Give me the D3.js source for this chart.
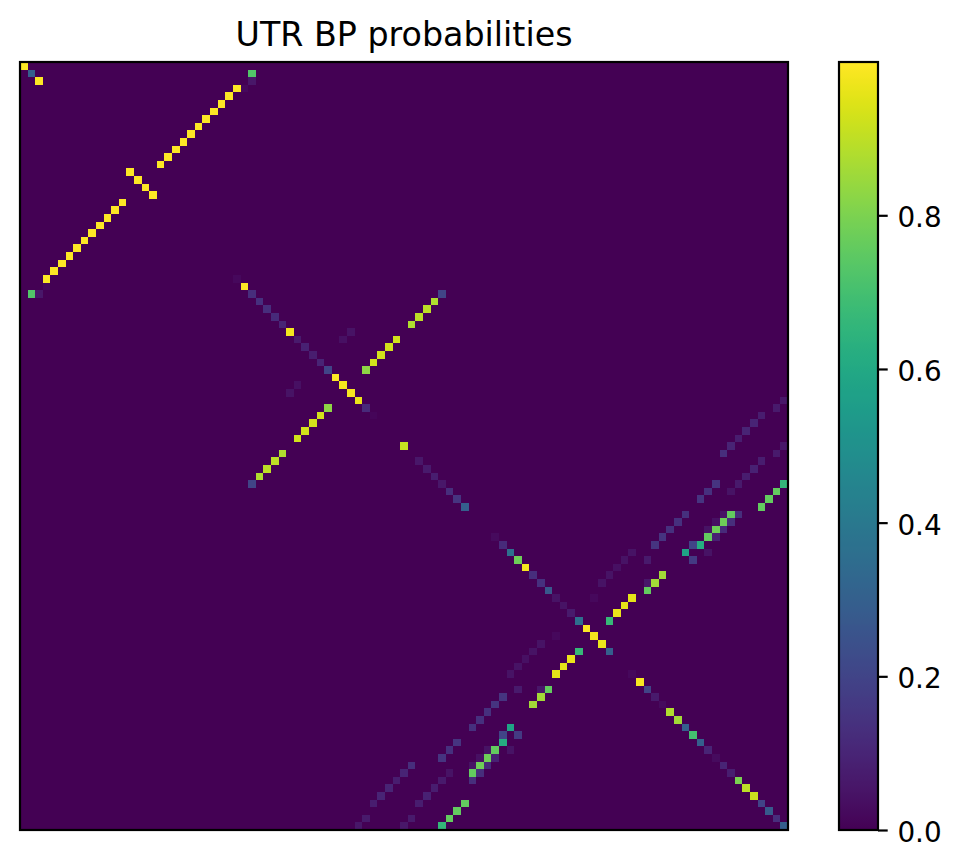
<!DOCTYPE html>
<html><head><meta charset="utf-8">
<script src="https://cdn.jsdelivr.net/npm/d3@7"></script>
<style>html,body{margin:0;padding:0;background:#fff}svg{display:block}text{font-family:"DejaVu Sans",sans-serif;fill:#000}</style>
</head><body><div id="chart"></div>
<script>
const N = 101;
const titleText = "UTR BP probabilities";
const colorbarTicks = [0, 0.2, 0.4, 0.6, 0.8];
const colorMax = 0.9995;

// diagonal cells
const diagIndex = [0,1,2,14,15,16,17,28,29,30,31,32,33,34,35,36,37,38,39,40,41,42,43,44,45,46,50,52,53,54,55,56,57,58,
  62,63,64,65,66,67,68,69,70,71,72,73,74,75,76,77,80,81,82,83,84,85,86,87,88,89,90,91,92,93,94,95,96,97,98,99,100];
const diagValue = [1,0.3,1,1,1,1,1,0.02,1,0.13,0.14,0.13,0.12,0.1,0.98,0.07,0.09,0.08,0.1,0.2,1,0.98,0.99,0.97,0.12,0.015,0.91,0.06,0.07,0.08,0.06,0.13,0.15,0.3,
  0.025,0.12,0.36,0.78,0.98,0.13,0.14,0.27,0.05,0.05,0.07,0.36,1,0.98,0.97,0.3,0.02,0.99,0.2,0.07,0.03,0.88,0.86,0.3,0.7,0.3,0.1,0.03,0.1,0.08,0.8,0.9,0.92,0.2,0.28,0.13,0.3];

// off-diagonal cells: upper triangle only, the matrix is symmetric
const helixAI = [1,2,3,3,4,5,6,7,8,9,10,11,12,13];
const helixAJ = [30,30,29,28,27,26,25,24,23,22,21,20,19,18];
const helixAP = [0.73,0.06,0.02,1,1,1,1,1,1,1,1,1,1,1];

const helixBI = [30,31,32,33,34,36,37,38,39,40,35,36];
const helixBJ = [55,54,53,52,51,49,48,47,46,45,43,42];
const helixBP = [0.2,0.88,0.9,0.9,0.88,0.93,0.93,0.93,0.93,0.83,0.05,0.04];

const helixCI = [44,45,46,47,48,49,50,51,50,51,52,53,54,55,56,55,56,57,55,56,57,58,59,60,61,62,63,63,64,65];
const helixCJ = [100,99,97,96,95,94,93,92,100,99,97,96,95,94,93,91,90,89,100,99,98,97,93,92,91,90,89,88,87,88];
const helixCP = [0.06,0.07,0.08,0.1,0.1,0.08,0.1,0.13,0.06,0.07,0.08,0.09,0.08,0.07,0.05,0.15,0.14,0.15,0.66,0.76,0.76,0.76,0.76,0.78,0.78,0.76,0.62,0.2,0.58,0.17];

const helixDI = [59,60,61,62,64,59,60,61,59,60,61,62,63,64,65,66,67,68,65,67,68,69,68,70,71,72,73,70];
const helixDJ = [94,93,92,91,90,92,91,90,87,86,85,84,83,80,79,78,77,76,82,84,83,82,82,80,79,78,77,75];
const helixDP = [0.13,0.13,0.12,0.09,0.05,0.05,0.04,0.05,0.14,0.14,0.14,0.15,0.15,0.05,0.05,0.04,0.05,0.05,0.07,0.86,0.86,0.76,0.06,0.96,0.96,0.97,0.67,0.02];

const W = 961, H = 867;
const left = 20, right = 788, top_ = 62, bottom = 830;
const cbLeft = 839, cbRight = 878;
const sw = 2.2;

const svg = d3.select("#chart").append("svg").attr("width", W).attr("height", H);
const x = d3.scaleLinear().domain([0, N]).range([left, right]);
const y = d3.scaleLinear().domain([0, N]).range([top_, bottom]);
const color = d3.scaleSequential(d3.interpolateViridis).domain([0, colorMax]);

const cells = [];
diagIndex.forEach((d, k) => cells.push({i: d, j: d, p: diagValue[k]}));
function addPairs(I, J, P) {
  I.forEach((d, k) => {
    cells.push({i: d, j: J[k], p: P[k]});
    cells.push({i: J[k], j: d, p: P[k]});
  });
}
addPairs(helixAI, helixAJ, helixAP);
addPairs(helixBI, helixBJ, helixBP);
addPairs(helixCI, helixCJ, helixCP);
addPairs(helixDI, helixDJ, helixDP);

svg.append("rect").attr("x", left).attr("y", top_).attr("width", right - left).attr("height", bottom - top_)
  .attr("fill", color(0));
svg.append("g").attr("shape-rendering", "crispEdges").selectAll("rect").data(cells).join("rect")
  .attr("x", d => x(d.j)).attr("y", d => y(d.i))
  .attr("width", d => x(d.j + 1) - x(d.j)).attr("height", d => y(d.i + 1) - y(d.i))
  .attr("fill", d => color(d.p));
svg.append("rect").attr("x", left).attr("y", top_).attr("width", right - left).attr("height", bottom - top_)
  .attr("fill", "none").attr("stroke", "#000").attr("stroke-width", sw);

svg.append("text").attr("x", (left + right) / 2).attr("y", 46).attr("text-anchor", "middle")
  .attr("font-size", 33.3).text(titleText);

// colorbar
const cbScale = d3.scaleLinear().domain([0, colorMax]).range([bottom, top_]);
const grad = svg.append("defs").append("linearGradient").attr("id", "cb").attr("x1", 0).attr("x2", 0).attr("y1", 1).attr("y2", 0);
d3.range(0, 257).forEach(k => grad.append("stop").attr("offset", k / 256).attr("stop-color", d3.interpolateViridis(k / 256)));
svg.append("rect").attr("x", cbLeft).attr("y", top_).attr("width", cbRight - cbLeft).attr("height", bottom - top_)
  .attr("fill", "url(#cb)").attr("stroke", "#000").attr("stroke-width", sw);
const axis = d3.axisRight(cbScale).tickValues(colorbarTicks).tickFormat(d3.format(".1f")).tickSize(9.7).tickPadding(9.7);
const ag = svg.append("g").attr("transform", `translate(${cbRight},0)`).call(axis);
ag.select(".domain").remove();
ag.selectAll("line").attr("stroke", "#000").attr("stroke-width", sw);
ag.selectAll("text").attr("font-size", 27.8).attr("font-family", '"DejaVu Sans",sans-serif').attr("fill", "#000").attr("dy", "0.41em");
</script></body></html>
